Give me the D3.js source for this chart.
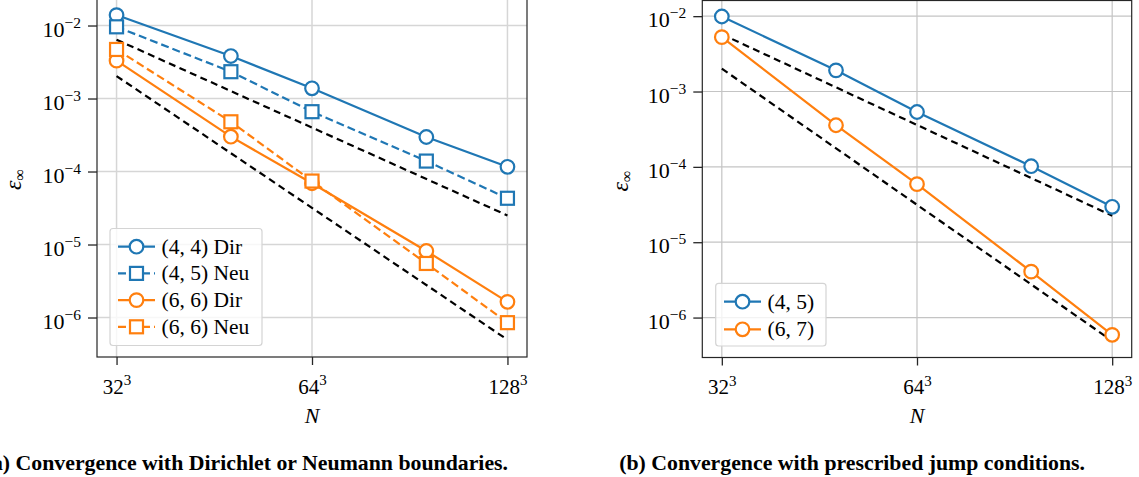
<!DOCTYPE html>
<html>
<head>
<meta charset="utf-8">
<script src="https://cdn.jsdelivr.net/npm/d3@7"></script>
<style>
  body { margin: 0; background: #fff; }
  svg { display: block; }
  text { font-family: "Liberation Serif", "Times New Roman", serif; fill: #000; }
</style>
</head>
<body>
<svg id="fig" width="1139" height="477"></svg>
<script>
// Grid resolutions (points per direction, N = n^3)
const resolutions = [32, 48, 64, 96, 128];
const xTickValues = [32, 64, 128];
const yTickValues = [1e-2, 1e-3, 1e-4, 1e-5, 1e-6];

// (a) Dirichlet / Neumann boundaries: max-norm error
const dir44 = [1.39e-2, 3.82e-3, 1.38e-3, 2.97e-4, 1.16e-4];
const neu45 = [9.6e-3, 2.33e-3, 6.6e-4, 1.39e-4, 4.3e-5];
const dir66 = [3.3e-3, 3.0e-4, 6.9e-5, 8.15e-6, 1.64e-6];
const neu66 = [4.7e-3, 4.8e-4, 7.4e-5, 5.5e-6, 8.5e-7];

// (b) prescribed jump conditions: max-norm error
const jump45 = [9.9e-3, 1.91e-3, 5.35e-4, 1.02e-4, 2.95e-5];
const jump67 = [5.27e-3, 3.57e-4, 5.9e-5, 4.07e-6, 5.9e-7];

// Reference slopes (4th and 6th order), end points at n = 32 and n = 128
const refRes = [32, 128];
const refA4 = [6.4e-3, 2.5e-5];
const refA6 = [2.03e-3, 4.96e-7];
const refB4 = [5.75e-3, 2.25e-5];
const refB6 = [2.01e-3, 4.9e-7];

const BLUE = "#1f77b4", ORANGE = "#ff7f0e";

const panels = [
  {
    xRange: [97, 527], yRange: [357, -2], yExp: [-6.541, -1.623],
    grid: { color: "#d6d6d6", width: 1.5 },
    refs: [refA4, refA6],
    series: [
      { label: "(4, 4) Dir", values: dir44, color: BLUE, dash: null, marker: "circle" },
      { label: "(4, 5) Neu", values: neu45, color: BLUE, dash: "8,4", marker: "square" },
      { label: "(6, 6) Dir", values: dir66, color: ORANGE, dash: null, marker: "circle" },
      { label: "(6, 6) Neu", values: neu66, color: ORANGE, dash: "8,4", marker: "square" }
    ],
    legend: { x: 110, y: 228.5, w: 152, h: 117, row0: 246.7, rowStep: 26.7, lineX: 118 },
    yLabelX: 21,
    caption: "(a) Convergence with Dirichlet or Neumann boundaries.", captionEnd: 508
  },
  {
    xRange: [702.3, 1131.7], yRange: [357.5, 0.5], yExp: [-6.530, -1.792],
    grid: { color: "#c4c4c4", width: 1.2 },
    refs: [refB4, refB6],
    series: [
      { label: "(4, 5)", values: jump45, color: BLUE, dash: null, marker: "circle" },
      { label: "(6, 7)", values: jump67, color: ORANGE, dash: null, marker: "circle" }
    ],
    legend: { x: 715.7, y: 283.3, w: 110.3, h: 62.7, row0: 301.7, rowStep: 27.6, lineX: 724 },
    yLabelX: 628,
    caption: "(b) Convergence with prescribed jump conditions.", captionEnd: 1085
  }
];

const svg = d3.select("#fig");
const LW = 2.2, R = 6.8, SQ = 13;

function drawMarker(sel, kind, cx, cy, color) {
  if (kind === "circle") {
    sel.append("circle").attr("cx", cx).attr("cy", cy).attr("r", R)
      .attr("fill", "#fff").attr("stroke", color).attr("stroke-width", LW);
  } else {
    sel.append("rect").attr("x", cx - SQ / 2).attr("y", cy - SQ / 2)
      .attr("width", SQ).attr("height", SQ)
      .attr("fill", "#fff").attr("stroke", color).attr("stroke-width", LW);
  }
}

function drawPanel(p) {
  const g = svg.append("g");
  const x = d3.scaleLog().base(2).domain([2 ** 4.9, 2 ** 7.1]).range(p.xRange);
  const y = d3.scaleLog().domain(p.yExp.map(e => 10 ** e)).range(p.yRange);
  const [x0, x1] = p.xRange, [yb, yt] = p.yRange;

  // grid
  g.append("g").selectAll("line").data(xTickValues).join("line")
    .attr("x1", d => x(d)).attr("x2", d => x(d)).attr("y1", yb).attr("y2", yt)
    .attr("stroke", p.grid.color).attr("stroke-width", p.grid.width);
  g.append("g").selectAll("line").data(yTickValues).join("line")
    .attr("x1", x0).attr("x2", x1).attr("y1", d => y(d)).attr("y2", d => y(d))
    .attr("stroke", p.grid.color).attr("stroke-width", p.grid.width);

  const line = d3.line().x(d => x(d[0])).y(d => y(d[1]));

  // reference slopes
  p.refs.forEach(r => {
    g.append("path").attr("d", line(d3.zip(refRes, r)))
      .attr("fill", "none").attr("stroke", "#000").attr("stroke-width", LW)
      .attr("stroke-dasharray", "7,4.5");
  });

  // data series
  p.series.forEach(s => {
    const pts = d3.zip(resolutions, s.values);
    g.append("path").attr("d", line(pts))
      .attr("fill", "none").attr("stroke", s.color).attr("stroke-width", LW)
      .attr("stroke-dasharray", s.dash);
    const mg = g.append("g");
    pts.forEach(d => drawMarker(mg, s.marker, x(d[0]), y(d[1]), s.color));
  });

  // frame
  g.append("rect").attr("x", x0).attr("y", yt).attr("width", x1 - x0).attr("height", yb - yt)
    .attr("fill", "none").attr("stroke", "#262626").attr("stroke-width", 1.2);

  // y axis
  const yAxis = g.append("g").attr("transform", `translate(${x0},0)`)
    .call(d3.axisLeft(y).tickValues(yTickValues).tickSize(9).tickSizeOuter(0).tickPadding(7).tickFormat(() => ""));
  yAxis.select(".domain").remove();
  yAxis.selectAll(".tick line").attr("stroke", "#262626").attr("stroke-width", 1.3);
  yAxis.selectAll(".tick text")
    .attr("font-size", 22).attr("font-family", "Liberation Serif, serif").attr("dy", "0.48em")
    .each(function (d) {
      const t = d3.select(this);
      t.append("tspan").text("10");
      t.append("tspan").attr("dy", -9).attr("font-size", 15.5).text("\u2212" + Math.round(-Math.log10(d)));
    });

  // x axis
  const xAxis = g.append("g").attr("transform", `translate(0,${yb})`)
    .call(d3.axisBottom(x).tickValues(xTickValues).tickSize(8).tickSizeOuter(0).tickPadding(8).tickFormat(() => ""));
  xAxis.select(".domain").remove();
  xAxis.selectAll(".tick line").attr("stroke", "#262626").attr("stroke-width", 1.3);
  xAxis.selectAll(".tick text")
    .attr("font-size", 21).attr("font-family", "Liberation Serif, serif").attr("dy", null).attr("y", 36.5)
    .each(function (d) {
      const t = d3.select(this);
      t.append("tspan").text(d);
      t.append("tspan").attr("dy", -8.5).attr("font-size", 15).text("3");
    });

  // axis labels
  g.append("text").attr("x", (x0 + x1) / 2).attr("y", 423).attr("text-anchor", "middle")
    .attr("font-size", 22).attr("font-style", "italic").text("N");
  const yl = g.append("text").attr("transform", `translate(${p.yLabelX},${(yb + yt) / 2 + 2}) rotate(-90)`)
    .attr("text-anchor", "middle").attr("font-size", 24);
  yl.append("tspan").attr("font-style", "italic").text("\u03b5");
  yl.append("tspan").attr("font-size", 16).attr("dy", 4).text("\u221e");

  // legend
  const L = p.legend;
  const lg = g.append("g");
  lg.append("rect").attr("x", L.x).attr("y", L.y).attr("width", L.w).attr("height", L.h)
    .attr("rx", 3).attr("fill", "#fff").attr("fill-opacity", 0.8)
    .attr("stroke", "#d4d4d4").attr("stroke-width", 1.2);
  p.series.forEach((s, i) => {
    const cy = L.row0 + i * L.rowStep;
    lg.append("line").attr("x1", L.lineX).attr("x2", L.lineX + 37).attr("y1", cy).attr("y2", cy)
      .attr("stroke", s.color).attr("stroke-width", LW).attr("stroke-dasharray", s.dash);
    drawMarker(lg, s.marker, L.lineX + 18.5, cy, s.color);
    lg.append("text").attr("x", L.lineX + 43.5).attr("y", cy + 7)
      .attr("font-size", 21.5).text(s.label);
  });

  // caption
  svg.append("text").attr("x", p.captionEnd).attr("y", 470).attr("text-anchor", "end")
    .attr("font-size", 21.8).attr("font-weight", "bold").text(p.caption);
}

panels.forEach(drawPanel);
</script>
</body>
</html>
